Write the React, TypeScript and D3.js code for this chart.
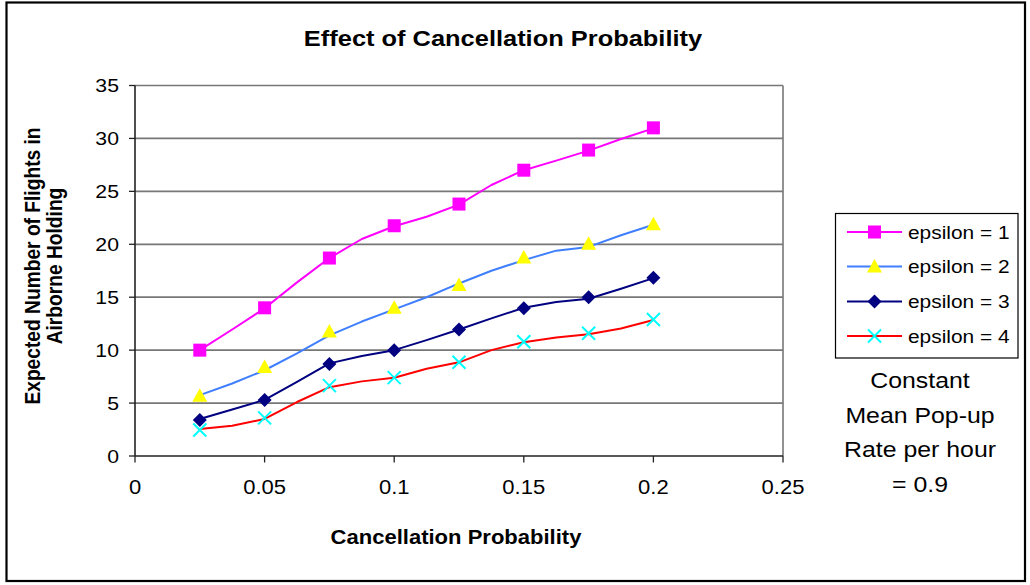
import React from "react";
import * as d3 from "d3";

const titleText = "Effect of Cancellation Probability";
const xTitle = "Cancellation Probability";
const yTitleLines = ["Expected Number of Flights in", "Airborne Holding"];
const noteLines = ["Constant", "Mean Pop-up", "Rate per hour", "= 0.9"];

const xTicks = [0, 0.05, 0.1, 0.15, 0.2, 0.25];
const xTickLabels = ["0", "0.05", "0.1", "0.15", "0.2", "0.25"];
const yTicks = [0, 5, 10, 15, 20, 25, 30, 35];

// marker data (at 0.025 steps)
const xMarkers = [0.025, 0.05, 0.075, 0.1, 0.125, 0.15, 0.175, 0.2];
const eps1Markers = [10.0, 14.0, 18.7, 21.75, 23.8, 27.0, 28.9, 31.0];
const eps2Markers = [5.7, 8.4, 11.75, 14.0, 16.15, 18.75, 20.05, 21.9];
const eps3Markers = [3.4, 5.3, 8.7, 10.0, 11.95, 13.95, 15.0, 16.85];
const eps4Markers = [2.45, 3.6, 6.65, 7.4, 8.85, 10.8, 11.6, 12.9];

// line data (finer steps)
const xLine = [0.025, 0.0375, 0.05, 0.0625, 0.075, 0.0875, 0.1, 0.1125, 0.125, 0.1375, 0.15, 0.1625, 0.175, 0.1875, 0.2];
const eps1Line = [10.0, 11.95, 13.95, 16.4, 18.7, 20.5, 21.7, 22.6, 23.75, 25.6, 27.0, 27.9, 28.85, 29.95, 30.95];
const eps2Line = [5.75, 6.85, 8.1, 9.7, 11.4, 12.7, 13.85, 15.0, 16.3, 17.5, 18.5, 19.4, 19.75, 20.85, 21.85];
const eps3Line = [3.5, 4.4, 5.3, 7.0, 8.75, 9.45, 10.0, 10.95, 11.95, 13.0, 14.0, 14.55, 14.85, 15.8, 16.8];
const eps4Line = [2.55, 2.85, 3.5, 5.1, 6.5, 7.05, 7.4, 8.25, 8.85, 10.0, 10.75, 11.2, 11.5, 12.05, 12.85];

const seriesNames = ["epsilon = 1", "epsilon = 2", "epsilon = 3", "epsilon = 4"];
const lineColors = ["#FF00FF", "#3F7FFF", "#000080", "#FF0000"];
const markerColors = ["#FF00FF", "#FFFF00", "#000080", "#00FFFF"];
const markerKinds = ["square", "triangle", "diamond", "cross"];

const series = [
  { name: seriesNames[0], line: eps1Line, marks: eps1Markers },
  { name: seriesNames[1], line: eps2Line, marks: eps2Markers },
  { name: seriesNames[2], line: eps3Line, marks: eps3Markers },
  { name: seriesNames[3], line: eps4Line, marks: eps4Markers },
];

const FONT = "'Liberation Sans', Arial, sans-serif";
const SX = 1.13;

const x = d3.scaleLinear().domain([0, 0.25]).range([135, 783]);
const y = d3.scaleLinear().domain([0, 35]).range([456, 85.5]);

function T({ x, y, size, anchor = "start", weight = "normal", rot = false, children }: any) {
  const tr = rot
    ? `translate(${x},${y}) scale(${SX},1) rotate(-90)`
    : `translate(${x},${y}) scale(${SX},1)`;
  return (
    <text transform={tr} fontFamily={FONT} fontSize={size} fontWeight={weight} textAnchor={anchor} fill="#000">
      {children}
    </text>
  );
}

function Marker({ kind, cx, cy, color }: any) {
  if (kind === "square") {
    return <rect x={cx - 6.5} y={cy - 6.5} width={13} height={13} fill={color} />;
  }
  if (kind === "triangle") {
    return <path d={`M${cx},${cy - 7.5} L${cx + 7.5},${cy + 6} L${cx - 7.5},${cy + 6} Z`} fill={color} />;
  }
  if (kind === "diamond") {
    return <path d={`M${cx},${cy - 7} L${cx + 7},${cy} L${cx},${cy + 7} L${cx - 7},${cy} Z`} fill={color} />;
  }
  const r = 6.5;
  return (
    <path
      d={`M${cx - r},${cy - r} L${cx + r},${cy + r} M${cx - r},${cy + r} L${cx + r},${cy - r}`}
      stroke={color}
      strokeWidth={2}
      fill="none"
    />
  );
}

export default function App() {
  const lineGen = d3
    .line<number>()
    .x((_, i) => x(xLine[i]))
    .y((v) => y(v))
    .curve(d3.curveLinear);

  const legendRows = [232, 266.5, 301.5, 336];

  return (
    <svg
      width={1030}
      height={585}
      style={{ position: "absolute", left: 0, top: 0, background: "#fff" }}
    >
      <rect x={0} y={0} width={1030} height={585} fill="#fff" />
      <rect x={6.5} y={2.5} width={1018.5} height={578.5} fill="none" stroke="#000" strokeWidth={2.2} />

      <T x={503} y={46} size={22.5} anchor="middle" weight="bold">{titleText}</T>

      {/* gridlines */}
      {yTicks.filter((t) => t > 0).map((t) => (
        <line key={t} x1={x(0)} x2={x(0.25)} y1={y(t)} y2={y(t)} stroke="#777" strokeWidth={1.7} />
      ))}
      {/* plot right border */}
      <line x1={x(0.25)} x2={x(0.25)} y1={y(35)} y2={y(0)} stroke="#777" strokeWidth={1.6} />

      {/* axes */}
      <line x1={x(0)} x2={x(0)} y1={y(35)} y2={y(0)} stroke="#222" strokeWidth={1.6} />
      <line x1={x(0)} x2={x(0.25)} y1={y(0)} y2={y(0)} stroke="#222" strokeWidth={1.6} />
      {yTicks.map((t) => (
        <g key={t}>
          <line x1={x(0) - 6} x2={x(0)} y1={y(t)} y2={y(t)} stroke="#222" strokeWidth={1.3} />
          <T x={119} y={y(t) + 6.8} size={18.8} anchor="end">{String(t)}</T>
        </g>
      ))}
      {xTicks.map((t, i) => (
        <g key={t}>
          <line x1={x(t)} x2={x(t)} y1={y(0)} y2={y(0) + 6.5} stroke="#222" strokeWidth={1.3} />
          <T x={x(t)} y={494} size={19.5} anchor="middle">{xTickLabels[i]}</T>
        </g>
      ))}

      <T x={456} y={543.5} size={19.5} anchor="middle" weight="bold">{xTitle}</T>
      <T x={39.5} y={266} size={19.2} anchor="middle" weight="bold" rot>{yTitleLines[0]}</T>
      <T x={62} y={266} size={19.2} anchor="middle" weight="bold" rot>{yTitleLines[1]}</T>

      {/* series */}
      {series.map((s, k) => (
        <path key={"l" + k} d={lineGen(s.line) || ""} fill="none" stroke={lineColors[k]} strokeWidth={2} strokeLinejoin="round" />
      ))}
      {series.map((s, k) =>
        s.marks.map((v, i) => (
          <Marker key={"m" + k + "-" + i} kind={markerKinds[k]} cx={x(xMarkers[i])} cy={y(v)} color={markerColors[k]} />
        ))
      )}

      {/* legend */}
      <rect x={835.5} y={213.5} width={182.5} height={144.5} fill="#fff" stroke="#000" strokeWidth={1.2} />
      {series.map((s, k) => (
        <g key={"lg" + k}>
          <line x1={847} x2={902} y1={legendRows[k]} y2={legendRows[k]} stroke={lineColors[k]} strokeWidth={2} />
          <Marker kind={markerKinds[k]} cx={874.5} cy={legendRows[k]} color={markerColors[k]} />
          <T x={908} y={legendRows[k] + 6.5} size={18.5}>{s.name}</T>
        </g>
      ))}

      {/* note */}
      {noteLines.map((l, i) => (
        <T key={l} x={920} y={388 + i * 34.5} size={22} anchor="middle">{l}</T>
      ))}
    </svg>
  );
}
